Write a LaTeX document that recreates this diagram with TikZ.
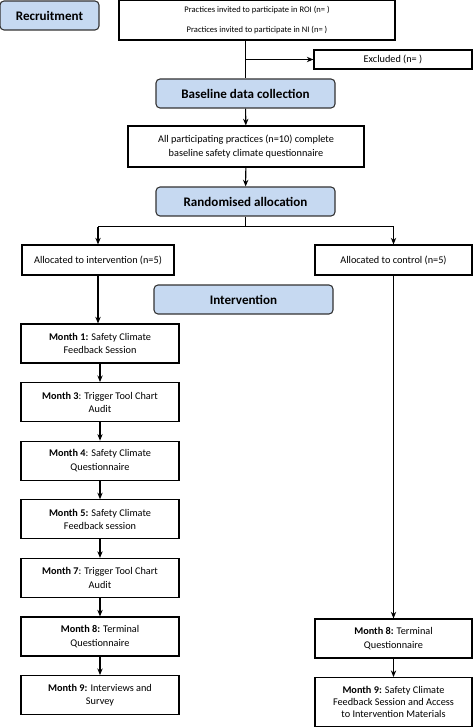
\documentclass[tikz,border=0pt]{standalone}
\usepackage{fontspec}
\setmainfont{Carlito}
\usetikzlibrary{arrows.meta, positioning}

\definecolor{headblue}{HTML}{C6D9F1}

\begin{document}
\begin{tikzpicture}[
          x=0.75pt, y=-0.75pt,
          box/.style={draw, fill=white, align=center, inner sep=1pt, line width=0.8pt, font=\fontsize{7.7}{10}\selectfont},
          head/.style={draw=black!80, fill=headblue, rounded corners=3pt, align=center, line width=0.8pt,
                       minimum width=134.25pt, minimum height=21.75pt, font=\fontsize{9.8}{11}\selectfont\bfseries},
          month/.style={box, minimum width=118.5pt, minimum height=29.25pt},
          >={Stealth[length=5pt, width=4pt]},
          line width=0.8pt
        ]
          \useasboundingbox (0,0) rectangle (474,727);

          % Kopfzeilen
          \node[head, minimum width=74.25pt] (rec) at (49.5,15.5) {Recruitment};
          \node[head] (base) at (245.5,93.5) {Baseline data collection};
          \node[head] (rand) at (245.5,201.5) {Randomised allocation};
          \node[head] (ihead) at (243.5,299.5) {Intervention};

          % Rekrutierung und Baseline
          \node[box, minimum width=207pt, minimum height=30pt, font=\fontsize{6.4}{8}\selectfont] (prac) at (257,20)
            {Practices invited to participate in ROI (n= )\\[6.5pt]Practices invited to participate in NI (n= )};
          \node[box, minimum width=118.5pt, minimum height=14.25pt] (excl) at (393,59.5) {Excluded (n= )};
          \node[box, minimum width=177pt, minimum height=30.75pt] (allp) at (246,146.5)
            {All participating practices (n=10) complete\\baseline safety climate questionnaire};

          % Zuteilung
          \node[box, minimum width=114pt, minimum height=22.5pt] (intv) at (98,260) {Allocated to intervention (n=5)};
          \node[box, minimum width=117.75pt, minimum height=22.5pt] (ctrl) at (393.5,260) {Allocated to control (n=5)};

          % Interventionsarm
          \node[month] (m1) at (100,343.5) {\textbf{Month 1:} Safety Climate\\Feedback Session};
          \node[month] (m3) [below=13.9pt of m1] {\textbf{Month 3}: Trigger Tool Chart\\Audit};
          \node[month] (m4) [below=13.9pt of m3] {\textbf{Month 4}: Safety Climate\\Questionnaire};
          \node[month] (m5) [below=13.9pt of m4] {\textbf{Month 5:} Safety Climate\\Feedback session};
          \node[month] (m7) [below=13.9pt of m5] {\textbf{Month 7}: Trigger Tool Chart\\Audit};
          \node[month] (m8) [below=13.9pt of m7] {\textbf{Month 8:} Terminal\\Questionnaire};
          \node[month] (m9) [below=13.9pt of m8] {\textbf{Month 9:} Interviews and\\Survey};

          % Kontrollarm
          \node[month, minimum width=117.75pt] (c8) at (393.5,638.5) {\textbf{Month 8:} Terminal\\Questionnaire};
          \node[month, minimum width=117.75pt, minimum height=36.75pt, font=\fontsize{7.7}{9.2}\selectfont] (c9) [below=13.9pt of c8]
            {\textbf{Month 9:} Safety Climate\\Feedback Session and Access\\to Intervention Materials};

          % Verbindungen
          \draw (base.north |- prac.south) -- (base.north);
          \draw[->] (excl.west -| base.north) -- (excl.west);
          \draw[->] (base) -- (allp);
          \draw[->] (allp) -- (rand);
          \draw (rand.south) -- ++(0,10) coordinate (split);
          \draw[->] (split -| intv.north) -- (intv.north);
          \draw[->] (split -| ctrl.north) -- (ctrl.north);
          \draw (split -| intv.north) -- (split -| ctrl.north);
          \draw[->] (intv.south) -- (intv.south |- m1.north);
          \draw[->] (m1) -- (m3);
          \draw[->] (m3) -- (m4);
          \draw[->] (m4) -- (m5);
          \draw[->] (m5) -- (m7);
          \draw[->] (m7) -- (m8);
          \draw[->] (m8) -- (m9);
          \draw[->] (ctrl) -- (c8);
          \draw[->] (c8) -- (c9);
        \end{tikzpicture}
\end{document}
